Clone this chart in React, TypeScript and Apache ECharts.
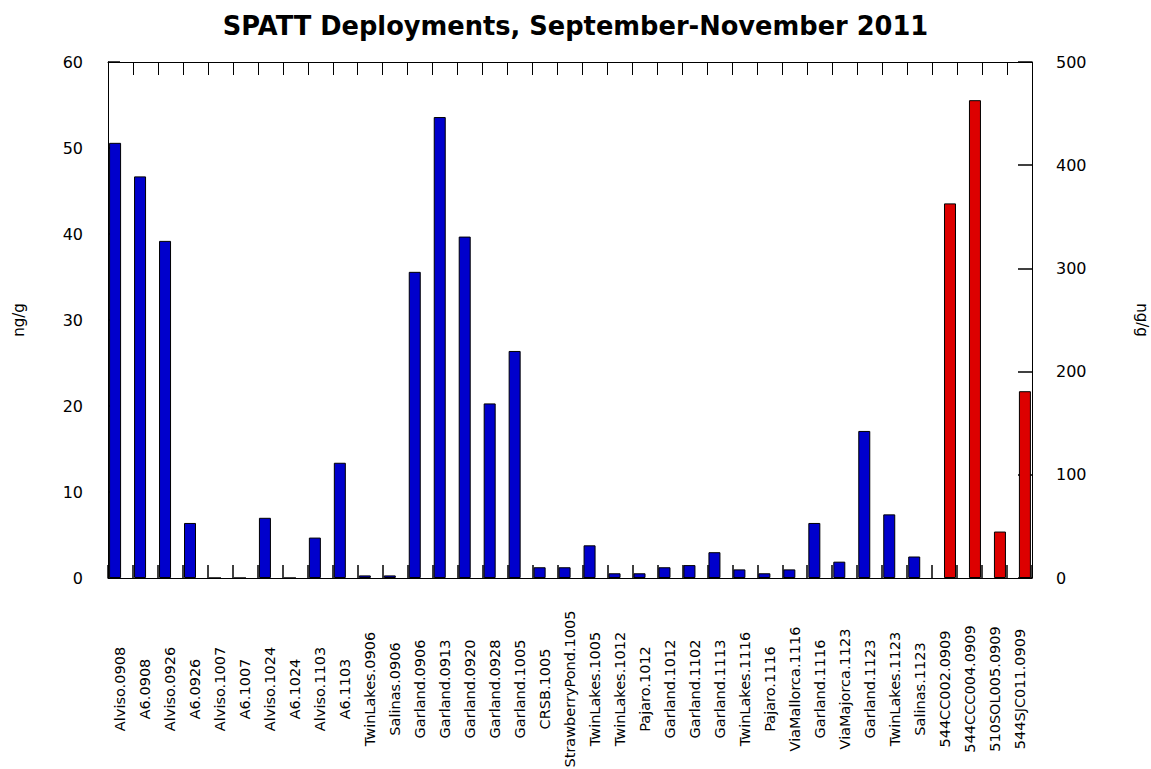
import React, { useEffect, useRef } from "react";
import * as echarts from "echarts";

const categories = [
  "Alviso.0908", "A6.0908", "Alviso.0926", "A6.0926", "Alviso.1007", "A6.1007",
  "Alviso.1024", "A6.1024", "Alviso.1103", "A6.1103", "TwinLakes.0906", "Salinas.0906",
  "Garland.0906", "Garland.0913", "Garland.0920", "Garland.0928", "Garland.1005",
  "CRSB.1005", "StrawberryPond.1005", "TwinLakes.1005", "TwinLakes.1012", "Pajaro.1012",
  "Garland.1012", "Garland.1102", "Garland.1113", "TwinLakes.1116", "Pajaro.1116",
  "ViaMallorca.1116", "Garland.1116", "ViaMajorca.1123", "Garland.1123", "TwinLakes.1123",
  "Salinas.1123", "544CC002.0909", "544CCC004.0909", "510SOL005.0909", "544SJC011.0909",
];

// left axis (ng/g), blue
const blueValues: (number | null)[] = [
  50.6, 46.7, 39.2, 6.4, 0, 0, 7.0, 0, 4.7, 13.4, 0.3, 0.3,
  35.6, 53.6, 39.7, 20.3, 26.4, 1.25, 1.25, 3.8, 0.55, 0.55,
  1.25, 1.5, 3.0, 1.0, 0.55, 1.0, 6.4, 1.9, 17.1, 7.4, 2.5,
  null, null, null, null,
];

// right axis (ng/g), red
const redValues: (number | null)[] = [
  ...Array(33).fill(null),
  363, 463, 45, 181,
];

const title = "SPATT Deployments, September-November 2011";
const leftAxisName = "ng/g";
const rightAxisName = "ng/g";

export default function App() {
  const ref = useRef<HTMLDivElement>(null);
  useEffect(() => {
    if (!ref.current) return;
    const chart = echarts.init(ref.current, null, { renderer: "svg" });
    const font = "DejaVu Sans";
    chart.setOption({
      animation: false,
      backgroundColor: "#ffffff",
      title: {
        text: title,
        left: "center",
        top: 8,
        textStyle: { fontFamily: font, fontWeight: "bold", fontSize: 25.7, color: "#000" },
      },
      grid: {
        left: 108,
        right: 119,
        top: 62,
        bottom: 191,
        containLabel: false,
        outerBoundsMode: "none",
      },
      xAxis: [
        {
          type: "category",
          data: categories,
          position: "bottom",
          axisLine: { show: true, onZero: false, lineStyle: { color: "#000", width: 1 } },
          axisTick: { show: true, inside: true, length: 13, interval: 0, lineStyle: { color: "#000", width: 1.5 } },
          axisLabel: {
            interval: 0,
            rotate: 90,
            align: "center",
            verticalAlign: "middle",
            margin: 111,
            fontFamily: font,
            fontSize: 14.5,
            color: "#000",
          },
          splitLine: { show: false },
        },
        {
          type: "category",
          data: categories,
          position: "top",
          axisLine: { show: true, onZero: false, lineStyle: { color: "#000", width: 1 } },
          axisTick: { show: true, inside: true, length: 13, interval: 0, lineStyle: { color: "#000", width: 1 } },
          axisLabel: { show: false, interval: 0 },
          splitLine: { show: false },
        },
      ],
      yAxis: [
        {
          type: "value",
          min: 0,
          max: 60,
          interval: 10,
          position: "left",
          name: leftAxisName,
          nameLocation: "middle",
          nameRotate: 90,
          nameGap: 82,
          nameTextStyle: { fontFamily: font, fontSize: 15, color: "#000" },
          axisLine: { show: true, lineStyle: { color: "#000", width: 1 } },
          axisTick: { show: true, inside: true, length: 12, lineStyle: { color: "#000", width: 1.5 } },
          axisLabel: { margin: 25, fontFamily: font, fontSize: 16, color: "#000" },
          splitLine: { show: false },
        },
        {
          type: "value",
          min: 0,
          max: 500,
          interval: 100,
          position: "right",
          name: rightAxisName,
          nameLocation: "middle",
          nameRotate: -90,
          nameGap: 102,
          nameTextStyle: { fontFamily: font, fontSize: 15, color: "#000" },
          axisLine: { show: true, lineStyle: { color: "#000", width: 1 } },
          axisTick: { show: true, inside: true, length: 14, lineStyle: { color: "#000", width: 1.5 } },
          axisLabel: { margin: 24, fontFamily: font, fontSize: 16, color: "#000" },
          splitLine: { show: false },
        },
      ],
      series: [
        {
          type: "bar",
          name: "left",
          xAxisIndex: 0,
          yAxisIndex: 0,
          data: blueValues,
          barWidth: 12,
          barGap: "-10%",
          itemStyle: { color: "#0000cc", borderColor: "#000", borderWidth: 1 },
        },
        {
          type: "bar",
          name: "right",
          xAxisIndex: 0,
          yAxisIndex: 1,
          data: redValues,
          barWidth: 12,
          barGap: "-10%",
          itemStyle: { color: "#dd0000", borderColor: "#000", borderWidth: 1 },
        },
      ],
    });
    return () => chart.dispose();
  }, []);
  return (
    <div
      ref={ref}
      style={{ position: "fixed", left: 0, top: 0, width: 1151, height: 769 }}
    />
  );
}
